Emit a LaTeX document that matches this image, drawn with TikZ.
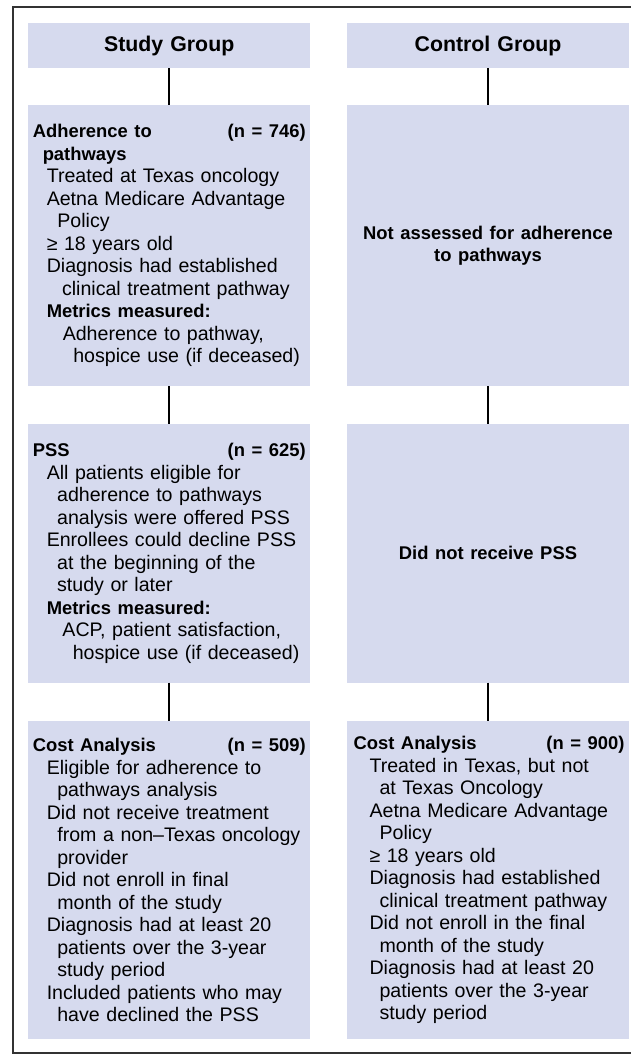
\documentclass[tikz,border=0pt]{standalone}
\usepackage{fontspec}
\setmainfont{Liberation Sans}
\usepackage{xcolor}
\usetikzlibrary{positioning}
\definecolor{boxblue}{RGB}{214,218,238}
\newcommand{\bodysize}{\fontsize{19.6}{22.5}\selectfont}
\newcommand{\hd}[1]{{\fontsize{18.4}{22.5}\selectfont\bfseries #1}}
\newcommand{\ind}[1]{\hspace*{#1pt}}
\tikzset{flowbox/.style={fill=boxblue, inner xsep=4.7pt, inner ysep=0pt,
text width=272.9pt, align=left, font=\bodysize},
grouphead/.style={flowbox, minimum height=45pt, align=center,
font=\fontsize{21.3}{24}\selectfont\bfseries}}

\begin{document}
\begin{tikzpicture}[x=1pt, y=1pt, link/.style={draw=black, line width=2pt}, frame/.style={draw=black!80, line width=1.2pt}]
					\useasboundingbox (0,0) rectangle (630,-1061);
					\draw[frame] (13,-7) rectangle (650,-1053);
					\node[grouphead] (studyhd) at (169.2,-45.5) {Study Group};
					\node[grouphead] (controlhd) at (488,-45.5) {Control Group};
					\node[flowbox, minimum height=280.7pt, below=37pt of studyhd] (adhere) {%
						\hd{Adherence to}\hfill\hd{(n = 746)}\\
						\ind{10}\hd{pathways}\\
						\ind{14}Treated at Texas oncology\\
						\ind{14}Aetna Medicare Advantage\\
						\ind{24.6}Policy\\
						\ind{14}≥ 18 years old\\
						\ind{14}Diagnosis had established\\
						\ind{29.3}clinical treatment pathway\\
						\ind{14}\hd{Metrics measured:}\\
						\ind{30}Adherence to pathway,\\
						\ind{40.6}hospice use (if deceased)};
					\node[flowbox, minimum height=280.7pt, align=center, below=37pt of controlhd] (noadhere) {\hd{Not assessed for adherence\\to pathways}};
					\node[flowbox, minimum height=258.7pt, below=37.3pt of adhere] (pss) {%
						\hd{PSS}\hfill\hd{(n = 625)}\\
						\ind{14}All patients eligible for\\
						\ind{24.4}adherence to pathways\\
						\ind{24.4}analysis were offered PSS\\
						\ind{14}Enrollees could decline PSS\\
						\ind{24.4}at the beginning of the\\
						\ind{24.4}study or later\\
						\ind{14}\hd{Metrics measured:}\\
						\ind{29.7}ACP, patient satisfaction,\\
						\ind{40}hospice use (if deceased)};
					\node[flowbox, minimum height=258.7pt, align=center, below=37.3pt of noadhere] (nopss) {\hd{Did not receive PSS}};
					\node[flowbox, minimum height=318pt, below=38.3pt of pss] (coststudy) {%
						\hd{Cost Analysis}\hfill\hd{(n = 509)}\\
						\ind{14}Eligible for adherence to\\
						\ind{24.6}pathways analysis\\
						\ind{14}Did not receive treatment\\
						\ind{24.6}from a non–Texas oncology\\
						\ind{24.6}provider\\
						\ind{14}Did not enroll in final\\
						\ind{24.6}month of the study\\
						\ind{14}Diagnosis had at least 20\\
						\ind{24.6}patients over the 3-year\\
						\ind{24.6}study period\\
						\ind{14}Included patients who may\\
						\ind{24.6}have declined the PSS};
					\node[flowbox, minimum height=318pt, below=38.3pt of nopss] (costcontrol) {%
						\ind{2}\hd{Cost Analysis}\hfill\hd{(n = 900)}\\
						\ind{18}Treated in Texas, but not\\
						\ind{28}at Texas Oncology\\
						\ind{18}Aetna Medicare Advantage\\
						\ind{28}Policy\\
						\ind{18}≥ 18 years old\\
						\ind{18}Diagnosis had established\\
						\ind{28}clinical treatment pathway\\
						\ind{18}Did not enroll in the final\\
						\ind{28}month of the study\\
						\ind{18}Diagnosis had at least 20\\
						\ind{28}patients over the 3-year\\
						\ind{28}study period};
					\draw[link] (studyhd) -- (adhere);
					\draw[link] (adhere) -- (pss);
					\draw[link] (pss) -- (coststudy);
					\draw[link] (controlhd) -- (noadhere);
					\draw[link] (noadhere) -- (nopss);
					\draw[link] (nopss) -- (costcontrol);
			\end{tikzpicture}
\end{document}
